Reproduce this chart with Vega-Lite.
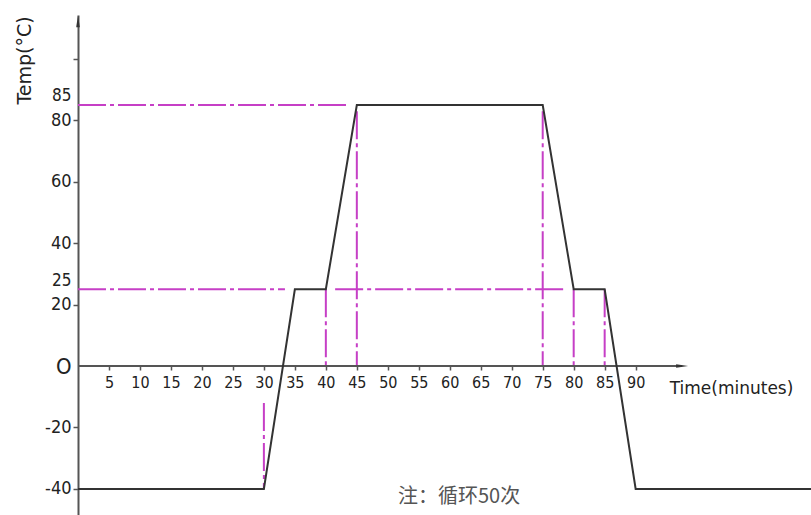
{
  "$schema": "https://vega.github.io/schema/vega-lite/v6.json",
  "autosize": {"type": "none"},
  "padding": {"left": 78, "top": 15, "right": 0, "bottom": 0},
  "width": 733,
  "height": 500,
  "background": "white",
  "config": {"view": {"stroke": null}},
  "datasets": {
    "profile": [
      {"i": 0, "x": 0, "y": -40},
      {"i": 1, "x": 30, "y": -40},
      {"i": 2, "x": 35, "y": 25},
      {"i": 3, "x": 40, "y": 25},
      {"i": 4, "x": 45, "y": 85},
      {"i": 5, "x": 75, "y": 85},
      {"i": 6, "x": 80, "y": 25},
      {"i": 7, "x": 85, "y": 25},
      {"i": 8, "x": 90, "y": -40},
      {"i": 9, "x": 118.3, "y": -40}
    ],
    "guides": [
      {"x": 0, "x2": 43.5, "y": 85, "y2": 85},
      {"x": 0, "x2": 33.4, "y": 25, "y2": 25},
      {"x": 41.5, "x2": 78.5, "y": 25, "y2": 25},
      {"x": 30, "x2": 30, "y": -12, "y2": -40},
      {"x": 40, "x2": 40, "y": 25, "y2": 0},
      {"x": 45, "x2": 45, "y": 83, "y2": 0},
      {"x": 75, "x2": 75, "y": 83, "y2": 0},
      {"x": 80, "x2": 80, "y": 25, "y2": 0},
      {"x": 85, "x2": 85, "y": 25, "y2": 0}
    ],
    "axisline": [
      {"x": 0, "x2": 97.5, "y": 0, "y2": 0}
    ],
    "arrowsUp": [{"x": 0, "y": 112.3}],
    "arrowsRight": [{"x": 97.5, "y": 0}],
    "note": [{"x": 61.5, "y": -42.7, "label": "注：循环50次"}]
  },
  "encoding": {
    "x": {
      "field": "x",
      "type": "quantitative",
      "scale": {"domain": [0, 118.3], "nice": false, "zero": false},
      "axis": {
        "offset": -149,
        "domain": false,
        "grid": false,
        "values": [5, 10, 15, 20, 25, 30, 35, 40, 45, 50, 55, 60, 65, 70, 75, 80, 85, 90],
        "labelOverlap": false,
        "tickColor": "#555",
        "tickSize": 4,
        "tickWidth": 1.5,
        "labelPadding": 4,
        "labelFont": "DejaVu Sans Condensed, sans-serif",
        "labelFontSize": 16,
        "labelColor": "#222",
        "title": "Time(minutes)",
        "titleFont": "DejaVu Sans, sans-serif",
        "titleFontSize": 17,
        "titleFontWeight": "normal",
        "titleColor": "#222",
        "titleX": 653,
        "titleY": 22,
        "titleAlign": "center",
        "titleBaseline": "middle"
      }
    },
    "y": {
      "field": "y",
      "type": "quantitative",
      "scale": {"domain": [-48.5, 114.3], "nice": false, "zero": false},
      "axis": {
        "domain": true,
        "domainColor": "#555",
        "domainWidth": 2,
        "grid": false,
        "values": [-40, -20, 0, 20, 25, 40, 60, 80, 85, 100],
        "labelOverlap": false,
        "labelExpr": "datum.value == 100 ? '' : datum.value == 0 ? 'O' : '' + datum.value",
        "tickColor": "#555",
        "tickSize": 5,
        "tickWidth": 1.5,
        "tickOpacity": {"condition": {"test": "datum.value == 0 || datum.value == 25 || datum.value == 85", "value": 0}, "value": 1},
        "labelPadding": 2,
        "labelFont": "DejaVu Sans Condensed, sans-serif",
        "labelFontSize": {"condition": [{"test": "datum.value == 0", "value": 22}, {"test": "datum.value == 25 || datum.value == 85", "value": 17}], "value": 18},
        "labelBaseline": {"condition": {"test": "datum.value == 25 || datum.value == 85", "value": "bottom"}, "value": "middle"},
        "labelColor": "#222",
        "title": "Temp(°C)",
        "titleFont": "DejaVu Sans, sans-serif",
        "titleFontSize": 19,
        "titleFontWeight": "normal",
        "titleColor": "#222",
        "titleX": -54,
        "titleY": 45,
        "titleAlign": "center",
        "titleBaseline": "middle",
        "titleAngle": -90
      }
    }
  },
  "layer": [
    {
      "data": {"name": "guides"},
      "mark": {"type": "rule", "color": "#c63fc6", "strokeWidth": 2, "strokeDash": [28, 4, 4, 4]},
      "encoding": {"x2": {"field": "x2"}, "y2": {"field": "y2"}}
    },
    {
      "data": {"name": "axisline"},
      "mark": {"type": "rule", "color": "#555", "strokeWidth": 2},
      "encoding": {"x2": {"field": "x2"}, "y2": {"field": "y2"}}
    },
    {
      "data": {"name": "arrowsUp"},
      "mark": {"type": "point", "shape": "M0,-1L0.3,1L-0.3,1Z", "size": 144, "filled": true, "color": "#333", "opacity": 1}
    },
    {
      "data": {"name": "arrowsRight"},
      "mark": {"type": "point", "shape": "M1,0L-1,0.3L-1,-0.3Z", "size": 144, "filled": true, "color": "#333", "opacity": 1}
    },
    {
      "data": {"name": "profile"},
      "mark": {"type": "line", "color": "#333", "strokeWidth": 2},
      "encoding": {"order": {"field": "i", "type": "quantitative"}}
    },
    {
      "data": {"name": "note"},
      "mark": {"type": "text", "font": "Noto Sans CJK SC", "fontSize": 20, "color": "#555", "align": "center", "baseline": "middle"},
      "encoding": {"text": {"field": "label"}}
    }
  ]
}
